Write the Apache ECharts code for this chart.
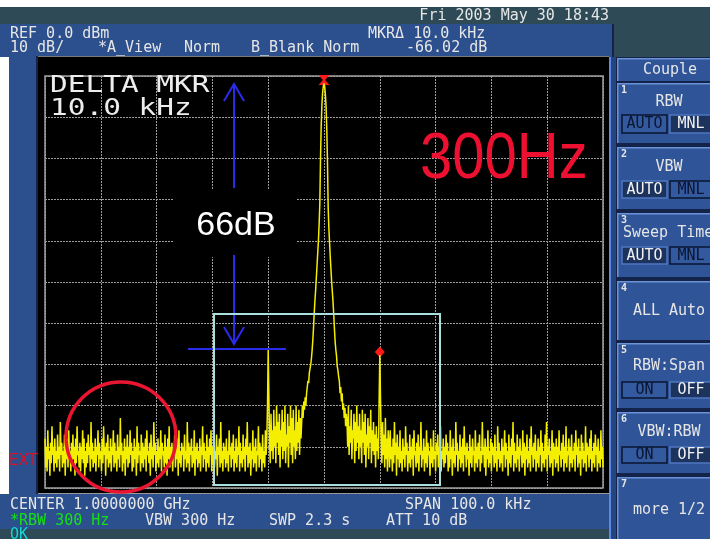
<!DOCTYPE html>
<html><head><meta charset="utf-8">
<script src="https://cdn.jsdelivr.net/npm/echarts/dist/echarts.min.js"></script>
<style>html,body{margin:0;padding:0;background:#fff}#c{width:710px;height:539px}</style>
</head><body><div id="c"></div>
<script>
// Frequency axis: offset from 1 GHz centre, kHz; level axis: dBm
const freqStartKHz = -50;
const freqStepKHz = 0.125;
const xTicksKHz = [-50, -40, -30, -20, -10, 0, 10, 20, 30, 40, 50];
const yTicksDb = [0, -10, -20, -30, -40, -50, -60, -70, -80, -90, -100];

// trace: -50 .. -4.125 kHz
const leftFloorDb = [
 -88,-95,-90,-96,-86,-93,-91,-97,-89,-94,-85,-92,-90,-96,-88,-94,-91,-95,-87,-93,
 -90,-96,-84,-92,-89,-95,-91,-94,-87,-97,-90,-93,-88,-95,-86,-92,-91,-96,-89,-94,
 -87,-93,-90,-97,-88,-94,-85,-92,-91,-95,-89,-96,-90,-93,-86,-94,-88,-97,-91,-95,
 -89,-94,-87,-92,-90,-96,-84,-93,-89,-95,-91,-94,-88,-96,-90,-92,-86,-95,-89,-93,
 -91,-96,-88,-94,-85,-92,-90,-97,-89,-93,-87,-95,-91,-94,-88,-96,-90,-92,-86,-95,
 -89,-94,-91,-96,-87,-93,-90,-95,-83,-92,-89,-96,-91,-94,-88,-97,-90,-93,-87,-95,
 -90,-94,-86,-92,-89,-96,-91,-95,-88,-93,-90,-97,-85,-94,-89,-92,-91,-96,-87,-94,
 -89,-95,-90,-93,-88,-96,-86,-92,-91,-94,-89,-97,-87,-93,-90,-95,-84,-92,-89,-96,
 -91,-94,-88,-95,-90,-93,-86,-96,-89,-92,-91,-95,-87,-94,-90,-97,-88,-93,-85,-95,
 -90,-94,-89,-96,-91,-92,-87,-95,-90,-93,-88,-97,-86,-94,-91,-95,-89,-92,-90,-96,
 -87,-93,-91,-95,-84,-94,-89,-96,-90,-92,-88,-95,-91,-94,-86,-97,-90,-93,-89,-95,
 -91,-94,-88,-96,-90,-92,-85,-95,-89,-93,-91,-96,-87,-94,-90,-95,-88,-92,-86,-96,
 -90,-94,-89,-95,-91,-93,-87,-97,-90,-92,-88,-95,-84,-94,-91,-96,-89,-93,-90,-95,
 -88,-94,-91,-96,-86,-92,-90,-95,-89,-93,-87,-96,-91,-94,-88,-95,-90,-92,-85,-96,
 -89,-94,-91,-95,-87,-93,-90,-96,-88,-92,-84,-95,-90,-94,-89,-97,-91,-93,-86,-95,
 -90,-94,-88,-96,-91,-92,-85,-95,-89,-93,-90,-96,-87,-94,-91,-95,-86,-92,-88,-80,
 -66.5,-78,-89,-94,-82,-91,-86,-93,-81,-90,-85,-94,-80,-89,-84,-92,-82,-95,-86,-90,
 -81,-93,-84,-91,-80,-94,-87,-90,-82,-95,-85,-89,-80,-92,-83,-94,-81,-90,-86,-93,
 -80,-91,-84,-89,-81,-92,-83,-88
];
// carrier: -4 .. +4 kHz
const carrierDb = [
 -84,-80,-83,-79,-81,-78,-80,-77,-77,-74,-74.5,-72,-71,-70,-68.5,-66.5,
 -64,-61,-57.5,-54.5,-52,-49,-46,-43,-40,-36,-31,-20,-12,-7,-4,-2.5,
 -1.8,
 -2.6,-4.5,-7.5,-13,-21,-32,-37,-40.5,-44,-47,-50,-52.5,-55,-58,-61.5,-64.5,
 -66.5,-68,-70.5,-71.5,-73,-74,-77,-75.5,-79,-77,-81,-79.5,-83,-80.5,-85,-82
];
// +4.125 .. +50 kHz
const rightFloorDb = [
 -84,-90,-80,-92,-85,-89,-81,-93,-86,-88,-82,-94,-84,-91,-80,-89,-85,-93,-82,-90,
 -86,-94,-81,-89,-84,-92,-82,-95,-87,-90,-83,-93,-85,-89,-81,-94,-86,-91,-84,-92,
 -87,-95,-85,-91,-88,-93,-79,-67.7,-78,-88,-94,-84,-92,-87,-95,-83,-93,-88,-96,-86,
 -89,-95,-86,-93,-90,-96,-88,-94,-84,-92,-89,-97,-87,-93,-90,-95,-86,-94,-91,-96,
 -88,-93,-90,-95,-85,-92,-89,-96,-91,-94,-87,-95,-90,-93,-88,-97,-86,-92,-91,-95,
 -89,-94,-87,-96,-90,-92,-84,-95,-91,-93,-88,-96,-90,-94,-86,-95,-89,-92,-91,-97,
 -88,-94,-90,-95,-86,-93,-91,-96,-89,-92,-87,-95,-90,-94,-85,-96,-91,-93,-88,-95,
 -90,-94,-87,-92,-89,-96,-91,-95,-86,-93,-90,-97,-88,-94,-91,-95,-84,-92,-89,-96,
 -91,-93,-87,-95,-90,-94,-88,-96,-85,-92,-90,-95,-89,-93,-91,-97,-87,-94,-90,-95,
 -88,-92,-91,-96,-86,-94,-90,-95,-89,-93,-87,-96,-91,-94,-84,-92,-90,-95,-88,-97,
 -90,-93,-86,-95,-91,-94,-88,-96,-89,-92,-90,-95,-87,-94,-91,-96,-85,-93,-89,-95,
 -91,-94,-88,-96,-90,-92,-86,-95,-89,-93,-91,-97,-87,-94,-90,-95,-88,-92,-84,-96,
 -89,-94,-91,-95,-87,-93,-90,-96,-88,-92,-91,-95,-86,-94,-89,-97,-90,-93,-87,-95,
 -91,-94,-88,-96,-85,-92,-90,-95,-89,-93,-87,-96,-91,-94,-88,-95,-90,-92,-86,-96,
 -89,-94,-91,-95,-87,-93,-84,-96,-90,-92,-88,-95,-91,-94,-86,-97,-89,-93,-90,-95,
 -88,-94,-90,-96,-86,-92,-91,-95,-89,-93,-87,-96,-90,-94,-85,-95,-91,-92,-88,-96,
 -90,-94,-87,-95,-91,-93,-89,-96,-86,-92,-90,-95,-88,-94,-91,-97,-87,-93,-89,-95,
 -91,-94,-85,-96,-89,-92,-90,-95,-88,-93,-86,-96,-91,-94,-89,-95,-87,-92,-90,-96,
 -88,-94,-91,-95,-86,-93,-90,-95
];
const refMarker = [0, -1];      // marker at carrier peak
const deltaMarker = [10, -67];  // delta marker on +10 kHz spur

const traceDb = leftFloorDb.concat(carrierDb, rightFloorDb);
const traceData = traceDb.map((v, i) => [freqStartKHz + i * freqStepKHz, v]);

// ---------- screen chrome ----------
const G = [];
const MONO = '"DejaVu Sans Mono", monospace';
function rect(x, y, w, h, fill, z, stroke, lw) {
  G.push({type:'rect', silent:true, z: z === undefined ? -10 : z,
    shape:{x, y, width:w, height:h},
    style:{fill: fill || 'none', stroke: stroke || null, lineWidth: lw || 0}});
}
function line(x1, y1, x2, y2, stroke, lw, z) {
  G.push({type:'line', silent:true, z: z === undefined ? 100 : z,
    shape:{x1, y1, x2, y2}, style:{stroke, lineWidth: lw}});
}
function poly(pts, stroke, lw) {
  G.push({type:'polyline', silent:true, z:100, shape:{points:pts},
    style:{stroke, lineWidth: lw, fill:'none'}});
}
function text(x, y, str, font, fill, align, z, extra) {
  G.push(Object.assign({type:'text', silent:true, x, y, z: z === undefined ? 100 : z,
    style:{text:str, font, fill, textAlign: align || 'left', textVerticalAlign:'middle',
      align: align || 'left', verticalAlign:'middle'}}, extra || {}));
}

const TEAL = '#2d4a56', HBLUE = '#2c4f8e', PBLUE = '#2f5497', DARK = '#13234a', LIGHT = '#6d92d8';
const TXT = '#e6e6e6';

rect(0, 7, 710, 17, TEAL);
rect(0, 24, 614, 33, HBLUE);
rect(614, 24, 96, 33, TEAL);
rect(612, 24, 2, 33, DARK);
rect(9, 56, 29, 438, HBLUE);
rect(36, 56, 2, 438, DARK);
rect(0, 494, 612, 35, HBLUE);
rect(0, 529, 612, 10, TEAL);
rect(38, 56, 571, 438, '#000', -6);
line(38, 56.5, 609, 56.5, '#7a7a7a', 1, -5);
line(38, 493.5, 609, 493.5, '#9a9a9a', 1, -5);

// right softkey panel
rect(609, 57, 101, 482, DARK);
rect(609, 57, 2, 482, '#5d8ae0');
rect(611, 57, 5, 482, '#24457f');
const keys = [[58, 81], [83, 143], [147, 209], [213, 277], [281, 340], [343, 408], [412, 473], [477, 545]];
keys.forEach(k => {
  rect(617, k[0], 93, k[1] - k[0], PBLUE, -9);
  rect(617, k[0], 93, 1.5, LIGHT, -8);
  rect(617, k[0], 1.5, k[1] - k[0], LIGHT, -8);
});
const KF = '15px ' + MONO;
text(670, 70, 'Couple', KF, TXT, 'center');
['1', '2', '3', '4', '5', '6', '7'].forEach((n, i) => {
  text(621, keys[i + 1][0] + 7, n, 'bold 10px ' + MONO, TXT, 'left');
});
text(669, 102, 'RBW', KF, TXT, 'center');
text(669, 167, 'VBW', KF, TXT, 'center');
text(623, 233, 'Sweep Time', KF, TXT, 'left');
text(669, 311, 'ALL Auto', KF, TXT, 'center');
text(669, 366, 'RBW:Span', KF, TXT, 'center');
text(669, 432, 'VBW:RBW', KF, TXT, 'center');
text(669, 510, 'more 1/2', KF, TXT, 'center');
function btn(x, y, w, h, label, sel) {
  rect(x, y, w, h, sel ? '#1c335d' : '#33599e', 90, sel ? '#4f77c2' : '#0a1530', 1.5);
  text(x + w / 2, y + h / 2 + 0.5, label, KF, sel ? '#f2f2f2' : '#0a1530', 'center', 101);
}
btn(622, 115, 45, 18, 'AUTO', false); btn(670, 115, 42, 18, 'MNL', true);
btn(622, 181, 45, 17, 'AUTO', true);  btn(670, 181, 42, 17, 'MNL', false);
btn(622, 247, 45, 17, 'AUTO', true);  btn(670, 247, 42, 17, 'MNL', false);
btn(622, 382, 45, 16, 'ON', false);   btn(670, 382, 42, 16, 'OFF', true);
btn(622, 447, 45, 16, 'ON', false);   btn(670, 447, 42, 16, 'OFF', true);

// header / footer text
const HF = '15px ' + MONO;
text(609, 16, 'Fri 2003 May 30 18:43', HF, TXT, 'right');
text(10, 34, 'REF 0.0 dBm', HF, TXT);
text(368, 34, 'MKR\u0394 10.0 kHz', HF, TXT);
text(10, 48, '10 dB/', HF, TXT);
text(98, 48, '*A_View', HF, TXT);
text(184, 48, 'Norm', HF, TXT);
text(251, 48, 'B_Blank Norm', HF, TXT);
text(406, 48, '-66.02 dB', HF, TXT);
text(10, 505, 'CENTER 1.0000000 GHz', HF, TXT);
text(405, 505, 'SPAN 100.0 kHz', HF, TXT);
text(10, 521, '*RBW 300 Hz', HF, '#16e016');
text(145, 521, 'VBW 300 Hz', HF, TXT);
text(269, 521, 'SWP 2.3 s', HF, TXT);
text(386, 521, 'ATT 10 dB', HF, TXT);
text(10, 535, 'OK', HF, '#10d8d8');
text(9, 461, 'EXT', '15px "DejaVu Sans", sans-serif', '#e01025');

// on-screen annotations
text(50, 86.5, 'DELTA MKR', '23px ' + MONO, '#ededed', 'left', 100, {scaleX: 1.28});
text(50, 109.5, '10.0 kHz', '23px ' + MONO, '#ededed', 'left', 100, {scaleX: 1.28});
rect(174, 189, 122, 68, '#000', 20);
const BLUE = '#2b2bea';
line(234, 84, 234, 188, BLUE, 2);
poly([[224, 101], [234, 84], [244, 101]], BLUE, 2);
line(234, 255, 234, 344, BLUE, 2);
poly([[224, 327], [234, 344], [244, 327]], BLUE, 2);
line(188, 349, 286, 349, BLUE, 2);
text(236, 226, '66dB', '34px "Liberation Sans", Arial, sans-serif', '#ffffff', 'center');
text(420, 160, '300Hz', '58px "Liberation Sans", Arial, sans-serif', '#ee1030', 'left', 100, {scaleY: 1.12});
G.push({type:'rect', silent:true, z:100, shape:{x:214, y:314, width:226, height:171},
  style:{fill:'none', stroke:'#a9dede', lineWidth:2}});
G.push({type:'circle', silent:true, z:100, shape:{cx:121, cy:437, r:55},
  style:{fill:'none', stroke:'#ea1530', lineWidth:3.5}});

const chart = echarts.init(document.getElementById('c'), null, {renderer:'canvas'});
const gridLine = {show:true, lineStyle:{color:'#9e9e9e', width:1, type:[2, 1]}};
chart.setOption({
  backgroundColor:'#ffffff',
  animation:false,
  grid:{left:45, top:76, width:558, height:412, show:true, borderColor:'#a0a0a0', borderWidth:1.5, backgroundColor:'transparent'},
  xAxis:{type:'value', min:xTicksKHz[0], max:xTicksKHz[xTicksKHz.length - 1], interval:10,
    axisLabel:{show:false}, axisTick:{show:false}, axisLine:{show:false}, splitLine:gridLine},
  yAxis:{type:'value', min:yTicksDb[yTicksDb.length - 1], max:yTicksDb[0], interval:10,
    axisLabel:{show:false}, axisTick:{show:false}, axisLine:{show:false}, splitLine:gridLine},
  graphic:{elements:G},
  series:[{
    type:'line', data:traceData, showSymbol:false, symbol:'none', z:5,
    lineStyle:{color:'#f4ef00', width:1.5}, silent:true,
    markPoint:{
      silent:true, label:{show:false},
      data:[
        {coord:refMarker, symbol:'path://M0,0 L10,0 L6,5 L10,10 L0,10 L4,5 Z', symbolSize:[11, 10], itemStyle:{color:'#ff1a1a'}},
        {coord:deltaMarker, symbol:'diamond', symbolSize:[10, 11], itemStyle:{color:'#ff1a1a'}}
      ]
    }
  }]
});
</script>
</body></html>
